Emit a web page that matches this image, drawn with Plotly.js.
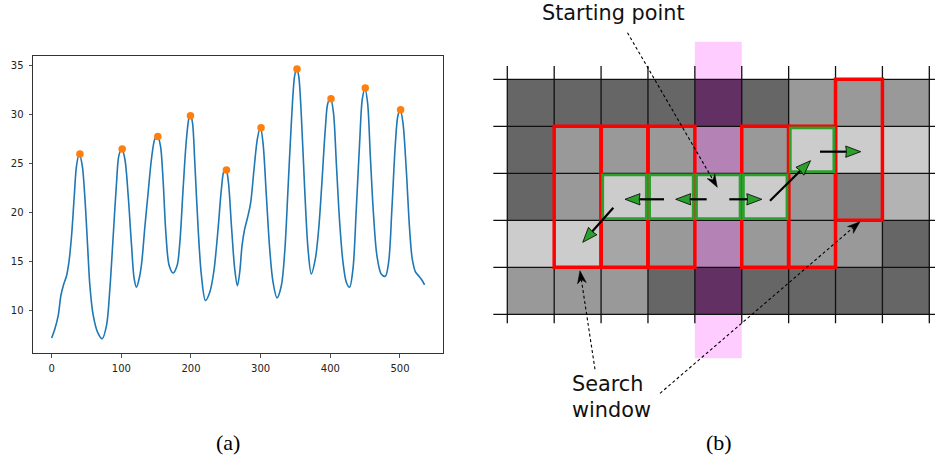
<!DOCTYPE html>
<html><head><meta charset="utf-8">
<script src="https://cdn.plot.ly/plotly-3.0.1.min.js"></script>
<style>html,body{margin:0;padding:0;background:#fff}#chart{width:935px;height:461px}</style>
</head><body><div id="chart"></div>
<script>
// ---------- panel (a): signal with detected peaks ----------
const signalX = [0,4.7,9.5,13.3,16.7,21.5,24.8,28.6,32.5,35.8,39.6,43.9,47.8,51.6,54.9,59.7,65.9,72.6,78.8,83.6,88.4,93.2,96.5,100.8,105.1,109.9,114.7,118.5,121.8,126.6,129.5,133.8,138.5,143.3,148.1,151.9,156.2,160.1,163.9,168.7,174.4,180.1,184,188.7,193.5,197.3,199.3,202.1,205.5,210.3,215,220.8,227,232.7,238.9,243.7,247.5,250.4,253.7,258.1,262.8,266.7,270,273.3,277.1,281.9,285.7,290.5,295.3,299.6,303.4,308.2,313,317.8,323.5,329.7,334.5,339.3,344.1,348.8,351.7,354.6,358.4,363.2,368,372.7,378.5,383.3,388,392.8,396.6,400.5,404.5,408.6,413.4,418.2,423,427.7,432.5,437.3,442.1,445.9,449.7,453.5,457.4,462.1,466.9,473.1,478.9,483.7,488.4,493.2,497,500.4,504.2,509,513.8,517.6,522.4,527.2,531.9,535.3];
const signalY = [7.15,8.1,9.46,11.5,12.5,13.54,14.9,17.6,21.7,24.8,25.96,24.8,21.4,16.6,12.5,9.46,7.76,7.08,8.44,12.2,17.6,23.1,25.8,26.5,25.45,21.7,16.6,13.2,12.35,13.55,15.0,18.5,22.0,25.45,27.5,27.83,26.8,23.1,17.96,14.56,13.8,14.56,16.9,22.4,27.5,29.7,29.94,29.2,25.1,18.3,13.54,10.99,11.84,13.9,18.3,22.4,24.25,24.36,23.1,18.6,14.2,12.5,13.9,16.6,18.3,19.66,21.0,24.4,27.5,28.75,27.1,21.7,16.26,12.86,11.26,12.5,15.9,22.4,29.2,33.95,34.7,33.95,29.9,22.4,16.26,13.7,15.24,18.3,23.1,28.5,31.2,31.64,30.2,25.1,18.98,14.9,12.86,12.35,14.2,20.34,27.15,31.57,32.69,31.2,25.8,19.66,15.58,13.7,13.47,14.9,20.34,26.8,29.87,30.48,29.19,24.4,18.3,15.24,13.88,13.47,13.03,12.59];
const peakX = [40.6,101.3,152.4,199.3,250.9,300.6,352.2,401,450.2,500.9];
const peakY = [25.96,26.47,27.76,29.87,24.32,28.64,34.66,31.6,32.7,30.48];
const xTicks = [0,100,200,300,400,500];
const yTicks = [10,15,20,25,30,35];

// ---------- panel (b): search grid ----------
const cellPalette = ['#666666','#999999','#cccccc','#808080','#b3b3b3','#a6a6a6','#623062','#b482b4'];
const cellCodes = [
  [0,0,0,0,6,0,1,1,1],
  [0,1,1,1,7,1,2,2,2],
  [0,1,2,2,2,2,1,3,4],
  [2,2,5,1,7,1,1,1,0],
  [1,1,1,0,6,0,0,0,0]
];
const nCols = 9, nRows = 5;
const highlightCol = 4;
const windowCol = [1,2,3,5,6,7];
const windowTopRow = [1,1,1,1,1,0];
const windowHeight = 3;
const pathCol = [2,3,4,5,6];
const pathRow = [2,2,2,2,1];
const stepTail = [[3.342,2.553],[4.252,2.553],[2.261,2.732],[4.734,2.553],[5.603,2.585],[6.669,1.54]];
const stepTip  = [[2.51,2.553],[3.591,2.553],[1.609,3.468],[5.428,2.553],[6.467,1.732],[7.537,1.54]];
const pointerTail = [[2.563,-0.991],[1.870,6.170],[3.257,6.681]];
const pointerTip  = [[4.479,2.298],[1.550,4.072],[7.522,3.030]];

// ---------- layout geometry ----------
const W = 935, H = 461;
// panel b axis: cell units mapped to pixels
const cellPxX = 46.89, cellPxY = 47, gridLeftPx = 507.3, gridTopPx = 79.3;
const U = px => (px - gridLeftPx) / cellPxX;
const V = py => (py - gridTopPx) / cellPxY;

const traces = [
  {type:'scatter', mode:'lines', x:signalX, y:signalY, xaxis:'x', yaxis:'y',
   line:{color:'#1f77b4', width:1.6, shape:'spline', smoothing:0.9}, hoverinfo:'skip'},
  {type:'scatter', mode:'markers', x:peakX, y:peakY, xaxis:'x', yaxis:'y',
   marker:{color:'#ff7f0e', size:7.5, line:{width:0}}, hoverinfo:'skip'},
  {type:'heatmap', z:cellCodes,
   x:Array.from({length:nCols},(_,i)=>i+0.5), y:Array.from({length:nRows},(_,i)=>i+0.5),
   xaxis:'x2', yaxis:'y2', zmin:0, zmax:cellPalette.length-1,
   colorscale: cellPalette.map((c,i)=>[i/(cellPalette.length-1), c]),
   showscale:false, hoverinfo:'skip'}
];

const shapes = [];
const R = {xref:'x2', yref:'y2'};
// pink highlight band (behind the grid)
shapes.push(Object.assign({type:'rect', layer:'below', x0:highlightCol, x1:highlightCol+1, y0:V(41.7), y1:V(358.3),
  fillcolor:'#ffccff', line:{width:0}}, R));
// grid lines
for (let r=0; r<=nRows; r++) shapes.push(Object.assign({type:'line', x0:U(493.3), x1:U(940), y0:r, y1:r, line:{color:'#111', width:1.3}}, R));
for (let c=0; c<=nCols; c++) shapes.push(Object.assign({type:'line', x0:c, x1:c, y0:V(66), y1:V(323.3), line:{color:'#111', width:1.3}}, R));
// search windows (red)
windowCol.forEach((c,i)=>shapes.push(Object.assign({type:'rect', x0:c, x1:c+1, y0:windowTopRow[i], y1:windowTopRow[i]+windowHeight,
  line:{color:'#ff0000', width:3.5}, fillcolor:'rgba(0,0,0,0)'}, R)));
// path cells (green)
const ins = 0.035;
pathCol.forEach((c,i)=>shapes.push(Object.assign({type:'rect', x0:c+ins, x1:c+1-ins, y0:pathRow[i]+ins, y1:pathRow[i]+1-ins,
  line:{color:'#2ca02c', width:2.8}, fillcolor:'rgba(0,0,0,0)'}, R)));

function head(tail, tip, L, w, notch){
  const dx = tip[0]-tail[0], dy = tip[1]-tail[1], n = Math.hypot(dx,dy);
  const ux = dx/n, uy = dy/n, px = -uy, py = ux;
  const bx = tip[0]-L*ux, by = tip[1]-L*uy;
  const nx = tip[0]-L*(1-notch)*ux, ny = tip[1]-L*(1-notch)*uy;
  const pts = [[tip[0],tip[1]],[bx+w*px,by+w*py],[nx,ny],[bx-w*px,by-w*py]];
  return {path:'M'+pts.map(p=>p[0].toFixed(4)+','+p[1].toFixed(4)).join(' L')+' Z', base:[nx,ny]};
}
// step arrows: black shaft + green head
stepTail.forEach((t,i)=>{
  const h = head(t, stepTip[i], 0.32, 0.12, 0.05);
  shapes.push(Object.assign({type:'line', x0:t[0], y0:t[1], x1:h.base[0], y1:h.base[1], line:{color:'#000', width:2.2}}, R));
  shapes.push(Object.assign({type:'path', path:h.path, fillcolor:'#2ca02c', line:{color:'#000', width:0.8}}, R));
});
// dotted pointer arrows
pointerTail.forEach((t,i)=>{
  const h = head(t, pointerTip[i], 0.27, 0.095, 0.3);
  shapes.push(Object.assign({type:'line', x0:t[0], y0:t[1], x1:h.base[0], y1:h.base[1], line:{color:'#000', width:1.1, dash:'3px,2.5px'}}, R));
  shapes.push(Object.assign({type:'path', path:h.path, fillcolor:'#000', line:{color:'#000', width:0.5}}, R));
});

const dv = {family:'DejaVu Sans', size:20.8, color:'#111'};
const annotations = [
  {xref:'x2', yref:'y2', x:U(613.5), y:V(12.7), text:'Starting point', showarrow:false, xanchor:'center', yanchor:'middle', font:dv},
  {xref:'x2', yref:'y2', x:U(570.3), y:V(384.4), text:'Search', showarrow:false, xanchor:'left', yanchor:'middle', font:dv},
  {xref:'x2', yref:'y2', x:U(570.3), y:V(410), text:'window', showarrow:false, xanchor:'left', yanchor:'middle', font:dv},
  {xref:'paper', yref:'paper', x:227.5/W, y:1-442/H, text:'(a)', showarrow:false, xanchor:'center', yanchor:'middle',
   font:{family:'Liberation Serif', size:22, color:'#000'}},
  {xref:'paper', yref:'paper', x:718.8/W, y:1-442/H, text:'(b)', showarrow:false, xanchor:'center', yanchor:'middle',
   font:{family:'Liberation Serif', size:22, color:'#000'}}
];

const tickFont = {family:'DejaVu Sans', size:10, color:'#222'};
const layout = {
  width:W, height:H, margin:{l:0,r:0,t:0,b:0}, paper_bgcolor:'#fff', plot_bgcolor:'#fff',
  showlegend:false,
  xaxis:{domain:[33/W, 443/W], range:[-26.75, 561.75], anchor:'y', tickvals:xTicks, ticktext:xTicks.map(String),
    ticks:'outside', ticklen:3.5, tickwidth:0.8, tickcolor:'#222', showline:true, linecolor:'#333', linewidth:1, mirror:true,
    showgrid:false, zeroline:false, tickfont:tickFont, ticklabelstandoff:2},
  yaxis:{domain:[1-353/H, 1-56/H], range:[5.62, 35.98], anchor:'x', tickvals:yTicks, ticktext:yTicks.map(String),
    ticks:'outside', ticklen:3.5, tickwidth:0.8, tickcolor:'#222', showline:true, linecolor:'#333', linewidth:1, mirror:true,
    showgrid:false, zeroline:false, tickfont:tickFont, ticklabelstandoff:3},
  xaxis2:{domain:[480/W, 1], range:[U(480), U(935)], anchor:'y2', visible:false, fixedrange:true},
  yaxis2:{domain:[0, 1], range:[V(461), V(0)], anchor:'x2', visible:false, fixedrange:true},
  shapes, annotations
};
Plotly.newPlot('chart', traces, layout, {staticPlot:true, displayModeBar:false});
</script></body></html>
